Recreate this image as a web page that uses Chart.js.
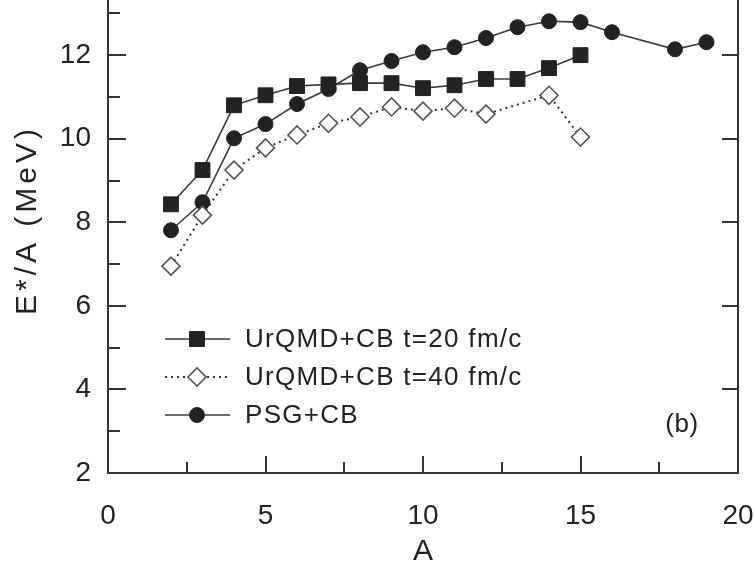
<!DOCTYPE html>
<html>
<head>
<meta charset="UTF-8">
<title>E*/A vs A</title>
<script src="https://cdn.jsdelivr.net/npm/chart.js"></script>
<style>
  html, body { margin: 0; padding: 0; background: #fff; }
  #wrap { width: 755px; height: 564px; position: relative; }
</style>
</head>
<body>
<div id="wrap"><canvas id="excChart"></canvas></div>
<script>
// UrQMD+CB, t = 20 fm/c
const massA20 = [2, 3, 4, 5, 6, 7, 8, 9, 10, 11, 12, 13, 14, 15];
const eUrqmd20 = [8.43, 9.25, 10.80, 11.04, 11.26, 11.30, 11.33, 11.33, 11.21, 11.28, 11.43, 11.43, 11.69, 12.00];

// UrQMD+CB, t = 40 fm/c (no A=13 point)
const massA40 = [2, 3, 4, 5, 6, 7, 8, 9, 10, 11, 12, 14, 15];
const eUrqmd40 = [6.95, 8.17, 9.25, 9.78, 10.09, 10.37, 10.52, 10.76, 10.66, 10.73, 10.59, 11.04, 10.04];

// PSG+CB
const massPsg = [2, 3, 4, 5, 6, 7, 8, 9, 10, 11, 12, 13, 14, 15, 16, 18, 19];
const ePsg = [7.81, 8.48, 10.01, 10.35, 10.83, 11.19, 11.64, 11.86, 12.07, 12.19, 12.41, 12.67, 12.81, 12.79, 12.55, 12.14, 12.31];

const seriesNames = ['UrQMD+CB t=20 fm/c', 'UrQMD+CB t=40 fm/c', 'PSG+CB'];
const xTickLabels = [0, 5, 10, 15, 20];
const yTickLabels = [2, 4, 6, 8, 10, 12];

const INK = '#222';
const FONT = "'Liberation Sans', Arial, sans-serif";

function toPoints(xs, ys) {
    return xs.map((x, i) => ({ x: x, y: ys[i] }));
}

const datasets = [
    {
        label: seriesNames[0],
        data: toPoints(massA20, eUrqmd20),
        showLine: true,
        borderColor: '#3a3a3a',
        borderWidth: 1.6,
        pointStyle: 'rect',
        pointRadius: 10.5,
        pointBackgroundColor: INK,
        pointBorderColor: INK,
        pointBorderWidth: 1
    },
    {
        label: seriesNames[1],
        data: toPoints(massA40, eUrqmd40),
        showLine: true,
        borderColor: '#333',
        borderWidth: 2,
        borderDash: [2, 4],
        pointStyle: 'rectRot',
        pointRadius: 9,
        pointBackgroundColor: '#fff',
        pointBorderColor: '#555',
        pointBorderWidth: 1.6
    },
    {
        label: seriesNames[2],
        data: toPoints(massPsg, ePsg),
        showLine: true,
        borderColor: '#3a3a3a',
        borderWidth: 1.6,
        pointStyle: 'circle',
        pointRadius: 7.5,
        pointBackgroundColor: INK,
        pointBorderColor: INK,
        pointBorderWidth: 1
    }
];

// inward tick marks, right-hand axis, legend box, axis titles and panel tag
const framePlugin = {
    id: 'frame',
    afterDatasetsDraw(chart) {
        const ctx = chart.ctx;
        const area = chart.chartArea;
        const xs = chart.scales.x;
        const ys = chart.scales.y;
        ctx.save();
        ctx.strokeStyle = '#333';
        ctx.lineWidth = 2;

        // right axis line
        ctx.beginPath();
        ctx.moveTo(area.right, area.top);
        ctx.lineTo(area.right, area.bottom + 1);
        ctx.stroke();

        ctx.beginPath();
        // left axis: majors on even values, minors on odd values
        for (let v = 3; v <= 13; v++) {
            const py = Math.round(ys.getPixelForValue(v));
            const len = v % 2 === 0 ? 18 : 12;
            ctx.moveTo(area.left, py);
            ctx.lineTo(area.left + len, py);
        }
        // right axis: majors only
        for (let v = 4; v <= 12; v += 2) {
            const py = Math.round(ys.getPixelForValue(v));
            ctx.moveTo(area.right, py);
            ctx.lineTo(area.right - 16, py);
        }
        // bottom axis: majors every 5, minors halfway
        for (let v = 2.5; v < 20; v += 2.5) {
            const px = Math.round(xs.getPixelForValue(v));
            const len = v % 5 === 0 ? 17 : 11;
            ctx.moveTo(px, area.bottom);
            ctx.lineTo(px, area.bottom - len);
        }
        ctx.stroke();

        // legend
        const rowY = [339, 377, 415];
        const lineX0 = 165, lineX1 = 230, markX = 197, textX = 245;
        chart.data.datasets.forEach((ds, i) => {
            const y = rowY[i];
            ctx.save();
            ctx.strokeStyle = ds.borderColor;
            ctx.lineWidth = ds.borderWidth;
            ctx.setLineDash(ds.borderDash || []);
            ctx.beginPath();
            ctx.moveTo(lineX0, y);
            ctx.lineTo(lineX1, y);
            ctx.stroke();
            ctx.setLineDash([]);
            ctx.fillStyle = ds.pointBackgroundColor;
            ctx.strokeStyle = ds.pointBorderColor;
            ctx.lineWidth = ds.pointBorderWidth;
            Chart.helpers.drawPoint(ctx, {
                pointStyle: ds.pointStyle,
                radius: ds.pointRadius,
                rotation: 0,
                borderWidth: ds.pointBorderWidth
            }, markX, y);
            ctx.restore();

            ctx.fillStyle = INK;
            ctx.font = '26px ' + FONT;
            ctx.letterSpacing = '1.3px';
            ctx.textAlign = 'left';
            ctx.textBaseline = 'middle';
            ctx.fillText(ds.label, textX, y + 1);
        });

        // panel tag
        ctx.letterSpacing = '0.5px';
        ctx.font = '26px ' + FONT;
        ctx.textAlign = 'center';
        ctx.fillText('(b)', 682, 425);

        // axis titles
        ctx.font = '30px ' + FONT;
        ctx.letterSpacing = '0px';
        ctx.textBaseline = 'middle';
        ctx.fillText('A', (area.left + area.right) / 2, 552);

        ctx.translate(28, 222);
        ctx.rotate(-Math.PI / 2);
        ctx.letterSpacing = '4px';
        ctx.fillText('E*/A (MeV)', 2, 0);
        ctx.restore();
    }
};

new Chart(document.getElementById('excChart'), {
    type: 'scatter',
    data: { datasets: datasets },
    options: {
        responsive: true,
        maintainAspectRatio: false,
        animation: false,
        devicePixelRatio: 1,
        layout: { autoPadding: false, padding: { top: 0, right: 17, bottom: 0, left: 0 } },
        plugins: {
            legend: { display: false },
            tooltip: { enabled: false }
        },
        scales: {
            x: {
                type: 'linear',
                min: 0,
                max: 20,
                afterFit(scale) {
                    scale.height = 91;
                    scale.paddingLeft = 0;
                    scale.paddingRight = 0;
                },
                grid: { display: false, drawTicks: false },
                border: { display: true, color: '#333', width: 2 },
                ticks: {
                    stepSize: 2.5,
                    autoSkip: false,
                    maxRotation: 0,
                    padding: 26,
                    color: INK,
                    font: { family: FONT, size: 28 },
                    callback: v => xTickLabels.includes(v) ? String(v) : null
                }
            },
            y: {
                type: 'linear',
                min: 2,
                max: 13.32,
                afterFit(scale) {
                    scale.width = 108;
                    scale.paddingTop = 0;
                    scale.paddingBottom = 0;
                },
                grid: { display: false, drawTicks: false },
                border: { display: true, color: '#333', width: 2 },
                ticks: {
                    stepSize: 1,
                    autoSkip: false,
                    padding: 17,
                    color: INK,
                    font: { family: FONT, size: 28 },
                    callback: v => yTickLabels.includes(v) ? String(v) : null
                }
            }
        }
    },
    plugins: [framePlugin]
});
</script>
</body>
</html>
